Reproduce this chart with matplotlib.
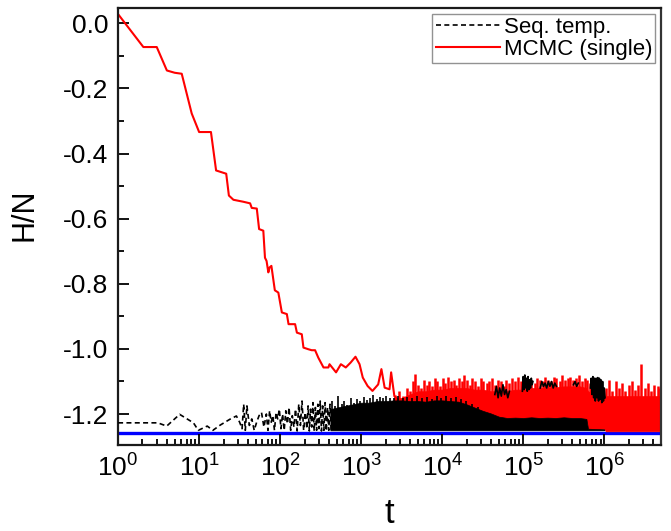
import matplotlib
matplotlib.use("Agg")
import matplotlib.pyplot as plt
import numpy as np
from matplotlib.ticker import LogLocator, MultipleLocator

plt.rcParams["font.family"] = ["Liberation Sans", "DejaVu Sans"]
plt.rcParams["mathtext.fontset"] = "custom"
plt.rcParams["mathtext.rm"] = "Liberation Sans"
plt.rcParams["mathtext.default"] = "regular"
plt.rcParams["axes.unicode_minus"] = False

# ground state level (blue)
ground_t = [1, 5e6]
ground_h = [-1.257, -1.257]

# Seq. temp. : early dashed trace, log10(t) and H/N
seq_lt = [0.00, 0.49, 0.60, 0.76, 0.93, 0.99, 1.10, 1.17, 1.26, 1.38, 1.46,
          1.50, 1.53, 1.55, 1.57, 1.59, 1.62, 1.65, 1.68, 1.71, 1.74,
          1.77, 1.80, 1.83, 1.85, 1.87, 1.89, 1.91, 1.93, 1.95, 1.97,
          1.99, 2.01, 2.03, 2.05, 2.07, 2.09, 2.11, 2.13, 2.15, 2.17,
          2.19, 2.21, 2.23, 2.25, 2.27, 2.29, 2.31, 2.33, 2.345, 2.36,
          2.375, 2.39, 2.405, 2.42, 2.435, 2.45, 2.465, 2.48, 2.495, 2.51,
          2.525, 2.54, 2.555, 2.57, 2.585, 2.60, 2.615, 2.63]
seq_h = [-1.227, -1.227, -1.237, -1.201, -1.227, -1.250, -1.237, -1.250, -1.234, -1.216, -1.206,
         -1.225, -1.245, -1.170, -1.250, -1.175, -1.235, -1.215, -1.250, -1.225, -1.205,
         -1.195, -1.240, -1.200, -1.250, -1.190, -1.225, -1.205, -1.250, -1.195, -1.215,
         -1.185, -1.245, -1.200, -1.250, -1.190, -1.230, -1.180, -1.250, -1.205, -1.240,
         -1.185, -1.252, -1.170, -1.235, -1.160, -1.250, -1.195, -1.245, -1.175, -1.252,
         -1.185, -1.240, -1.165, -1.252, -1.180, -1.250, -1.170, -1.245, -1.160, -1.252,
         -1.175, -1.250, -1.165, -1.252, -1.180, -1.250, -1.170, -1.252]

# Seq. temp. : dense band, log10(t) and upper edge
seq_band_lt = [2.62, 2.70, 2.80, 2.90, 3.00, 3.10, 3.20, 3.30, 3.40, 3.50,
               3.60, 3.70, 3.80, 3.90, 4.00, 4.10, 4.20, 4.30, 4.40, 4.50,
               4.60, 4.70, 4.80, 4.90, 5.00, 5.10, 5.20, 5.30, 5.40, 5.50,
               5.60, 5.70, 5.78, 5.80, 5.90, 6.00]
seq_band_hi = [-1.185, -1.180, -1.175, -1.170, -1.165, -1.165, -1.160, -1.160, -1.158, -1.158,
               -1.160, -1.160, -1.162, -1.158, -1.158, -1.160, -1.162, -1.170, -1.180, -1.190,
               -1.198, -1.208, -1.212, -1.211, -1.212, -1.210, -1.212, -1.211, -1.212, -1.210,
               -1.212, -1.212, -1.215, -1.245, -1.246, -1.247]
seq_band_lo = -1.250

# Seq. temp. : isolated spikes above the band
seq_spk_lt = [2.64, 2.68, 2.72, 2.76, 2.79, 2.83, 2.87, 2.91, 2.95, 2.99,
              3.03, 3.07, 3.11, 3.15, 3.19, 3.23, 3.27, 3.31, 3.36, 3.41,
              3.46, 3.52, 3.57, 3.63, 3.69, 3.75, 3.81, 3.87, 3.93, 3.99,
              4.05, 4.11, 4.17, 4.23, 4.30, 4.37, 4.44]
seq_spk_h = [-1.160, -1.175, -1.146, -1.170, -1.160, -1.172, -1.150, -1.165, -1.155, -1.160,
             -1.148, -1.158, -1.150, -1.140, -1.155, -1.148, -1.152, -1.146, -1.150, -1.152,
             -1.145, -1.150, -1.148, -1.152, -1.145, -1.150, -1.148, -1.153, -1.146, -1.150,
             -1.144, -1.150, -1.148, -1.155, -1.160, -1.168, -1.178]

# Seq. temp. : excursions to the upper level (groups split by nan)
seq_top_lt = [4.65, 4.67, 4.69, 4.71, 4.73, 4.75, 4.77, 4.79, 4.81, 4.83, np.nan,
              4.99, 5.00, 5.01, 5.02, 5.03, 5.04, 5.05, 5.06, 5.07, 5.08, 5.09, 5.10,
              5.11, 5.12, np.nan,
              5.21, 5.23, 5.25, 5.27, 5.29, 5.31, 5.33, 5.35, 5.37, 5.39, 5.41, np.nan,
              5.62, 5.64, 5.66, 5.68, np.nan,
              5.83, 5.84, 5.85, 5.86, 5.87, 5.88, 5.89, 5.90, 5.91, 5.92, 5.93, 5.94,
              5.95, 5.96, 5.97, 5.98, 5.99, 6.00, 6.01]
seq_top_h = [-1.14, -1.115, -1.15, -1.12, -1.145, -1.11, -1.14, -1.125, -1.15, -1.13, np.nan,
             -1.13, -1.085, -1.125, -1.08, -1.12, -1.09, -1.13, -1.085, -1.125, -1.095, -1.12, -1.09,
             -1.11, -1.10, np.nan,
             -1.12, -1.10, -1.115, -1.105, -1.12, -1.10, -1.115, -1.10, -1.12, -1.105, -1.115, np.nan,
             -1.11, -1.10, -1.115, -1.105, np.nan,
             -1.12, -1.09, -1.14, -1.085, -1.15, -1.09, -1.16, -1.09, -1.15, -1.088, -1.16, -1.09,
             -1.155, -1.095, -1.165, -1.10, -1.16, -1.12, -1.15]

# MCMC (single): relaxation trace
mcmc_t = [1, 2.05, 3.0, 4.0, 5.0, 6.1, 8.1, 10, 14, 16.2,
          21.6, 23.3, 26.5, 35, 42.6, 44.6, 51.5, 55, 62, 65,
          68, 71.5, 74, 78, 86, 95, 105, 121, 127, 153,
          161, 185, 194, 223, 245, 270, 296, 343, 394, 407,
          490, 562, 646, 741, 851, 955, 1047, 1202, 1380, 1622,
          1778, 1950, 2239, 2344, 2570, 2951]
mcmc_h = [0.028, -0.073, -0.073, -0.145, -0.152, -0.155, -0.277, -0.334, -0.334, -0.452,
          -0.462, -0.529, -0.542, -0.548, -0.553, -0.567, -0.569, -0.632, -0.637, -0.720,
          -0.730, -0.765, -0.750, -0.745, -0.820, -0.827, -0.888, -0.893, -0.924, -0.924,
          -0.950, -0.955, -0.996, -1.001, -1.004, -1.004, -1.027, -1.057, -1.057, -1.047,
          -1.072, -1.047, -1.057, -1.042, -1.024, -1.047, -1.088, -1.114, -1.129, -1.109,
          -1.062, -1.119, -1.124, -1.072, -1.145, -1.160]

# MCMC (single): fluctuating band, log10(t), body edges
mcmc_band_lt = [3.40, 3.50, 3.60, 3.70, 3.80, 3.90, 4.00, 4.10, 4.20, 4.30,
                4.40, 4.50, 4.60, 4.70, 4.80, 4.90, 5.00, 5.10, 5.20, 5.30,
                5.40, 5.50, 5.60, 5.70, 5.78, 5.80, 5.90, 6.00, 6.02, 6.10,
                6.20, 6.30, 6.40, 6.50, 6.60, 6.70]
mcmc_band_hi = [-1.155, -1.150, -1.140, -1.130, -1.130, -1.125, -1.125, -1.120, -1.120, -1.120,
                -1.125, -1.125, -1.130, -1.130, -1.130, -1.125, -1.125, -1.120, -1.120, -1.118,
                -1.118, -1.115, -1.115, -1.115, -1.120, -1.130, -1.140, -1.145, -1.145, -1.145,
                -1.145, -1.145, -1.145, -1.145, -1.145, -1.145]
mcmc_band_lo = [-1.190, -1.190, -1.190, -1.190, -1.190, -1.190, -1.190, -1.190, -1.190, -1.190,
                -1.195, -1.200, -1.205, -1.210, -1.212, -1.212, -1.212, -1.212, -1.212, -1.212,
                -1.212, -1.212, -1.212, -1.212, -1.215, -1.246, -1.246, -1.246, -1.253, -1.253,
                -1.253, -1.253, -1.253, -1.253, -1.253, -1.253]

# MCMC (single): spikes on top of the band
mcmc_spk_lt = [3.42, 3.47, 3.52, 3.56, 3.60, 3.64, 3.67, 3.70, 3.74, 3.77,
               3.81, 3.84, 3.87, 3.91, 3.94, 3.97, 4.01, 4.04, 4.07, 4.11,
               4.14, 4.17, 4.21, 4.24, 4.27, 4.31, 4.34, 4.37, 4.41, 4.44,
               4.48, 4.51, 4.55, 4.58, 4.62, 4.65, 4.69, 4.72, 4.76, 4.79,
               4.83, 4.86, 4.90, 4.93, 4.97, 5.00, 5.03, 5.07, 5.10, 5.14,
               5.17, 5.21, 5.24, 5.27, 5.31, 5.34, 5.38, 5.41, 5.45, 5.48,
               5.51, 5.55, 5.58, 5.62, 5.65, 5.69, 5.72, 5.76, 5.79, 5.83,
               5.87, 5.91, 5.95, 6.02, 6.06, 6.10, 6.14, 6.18, 6.22, 6.26,
               6.30, 6.34, 6.38, 6.42, 6.46, 6.50, 6.54, 6.58, 6.62, 6.66, 6.69]
mcmc_spk_h = [-1.140, -1.130, -1.145, -1.120, -1.130, -1.100, -1.078, -1.110, -1.120, -1.095,
              -1.110, -1.100, -1.115, -1.090, -1.100, -1.115, -1.090, -1.105, -1.085, -1.100,
              -1.095, -1.110, -1.090, -1.100, -1.080, -1.095, -1.110, -1.090, -1.100, -1.115,
              -1.090, -1.100, -1.105, -1.100, -1.090, -1.110, -1.095, -1.100, -1.115, -1.095,
              -1.105, -1.090, -1.100, -1.085, -1.100, -1.110, -1.090, -1.100, -1.095, -1.105,
              -1.090, -1.095, -1.100, -1.085, -1.095, -1.100, -1.085, -1.090, -1.100, -1.080,
              -1.095, -1.090, -1.085, -1.095, -1.090, -1.080, -1.100, -1.090, -1.095, -1.105,
              -1.110, -1.125, -1.115, -1.120, -1.095, -1.130, -1.100, -1.120, -1.105, -1.130,
              -1.110, -1.100, -1.125, -1.110, -1.045, -1.120, -1.105, -1.130, -1.110, -1.115, -1.120]

yticks = [-1.2, -1.0, -0.8, -0.6, -0.4, -0.2, 0.0]

fig = plt.figure(figsize=(6.71, 5.31), dpi=100)
ax = fig.add_axes([0.176, 0.162, 0.809, 0.823])

ax.plot(ground_t, ground_h, color="#0000ff", lw=2.4, zorder=1)

red = "#ff0000"
mcmc_band_t = 10 ** np.array(mcmc_band_lt)
mcmc_spk_t = 10 ** np.array(mcmc_spk_lt)
ax.fill_between(mcmc_band_t, mcmc_band_lo, mcmc_band_hi, color=red, lw=0.5, zorder=2)
ax.vlines(mcmc_spk_t, -1.2, mcmc_spk_h, color=red, lw=1.8, zorder=2)
(l_mcmc,) = ax.plot(mcmc_t, mcmc_h, color=red, lw=1.5, zorder=2,
                    label="MCMC (single)")

ax.fill_between(10 ** np.array(seq_band_lt), seq_band_lo, seq_band_hi,
                color="black", lw=0.5, zorder=3)
ax.vlines(10 ** np.array(seq_spk_lt), -1.2, seq_spk_h, color="black", lw=1.2, zorder=3)
ax.plot(10 ** np.array(seq_top_lt), seq_top_h, color="black", lw=1.2, zorder=3)
(l_seq,) = ax.plot(10 ** np.array(seq_lt), seq_h, color="black", lw=1.2,
                   dashes=(3, 2), zorder=3, label="Seq. temp.")

ax.set_xscale("log")
ax.set_xlim(1, 10 ** 6.7)
ax.set_ylim(-1.295, 0.047)
ax.xaxis.set_major_locator(LogLocator(base=10, numticks=10))
ax.xaxis.set_minor_locator(LogLocator(base=10, subs=np.arange(2, 10), numticks=20))
ax.set_yticks(yticks)
ax.set_yticklabels([f"{v:.1f}" for v in yticks])
ax.yaxis.set_minor_locator(MultipleLocator(0.1))

ax.tick_params(which="both", direction="in", top=False, right=False,
               width=1.3, labelsize=19, colors="black")
ax.tick_params(which="major", length=8, pad=7)
ax.tick_params(which="minor", length=4)
for side in ["left", "bottom", "top"]:
    ax.spines[side].set_linewidth(1.6)
    ax.spines[side].set_color("#1a1a1a")
ax.spines["right"].set_linewidth(1.6)
ax.spines["right"].set_color("#333333")

ax.set_xlabel("t", fontsize=25)
ax.set_ylabel("H/N", fontsize=22)
ax.xaxis.set_label_coords(0.5, -0.118)
ax.yaxis.set_label_coords(-0.145, 0.526)

leg = ax.legend(handles=[l_seq, l_mcmc], loc="upper right", fontsize=16,
                frameon=True, fancybox=False, borderaxespad=0.25,
                handlelength=2.9, handletextpad=0.15, borderpad=0.15,
                labelspacing=0.05)
leg.get_frame().set_edgecolor("#777777")
leg.get_frame().set_linewidth(1.0)

fig.savefig("out.png", dpi=100)
